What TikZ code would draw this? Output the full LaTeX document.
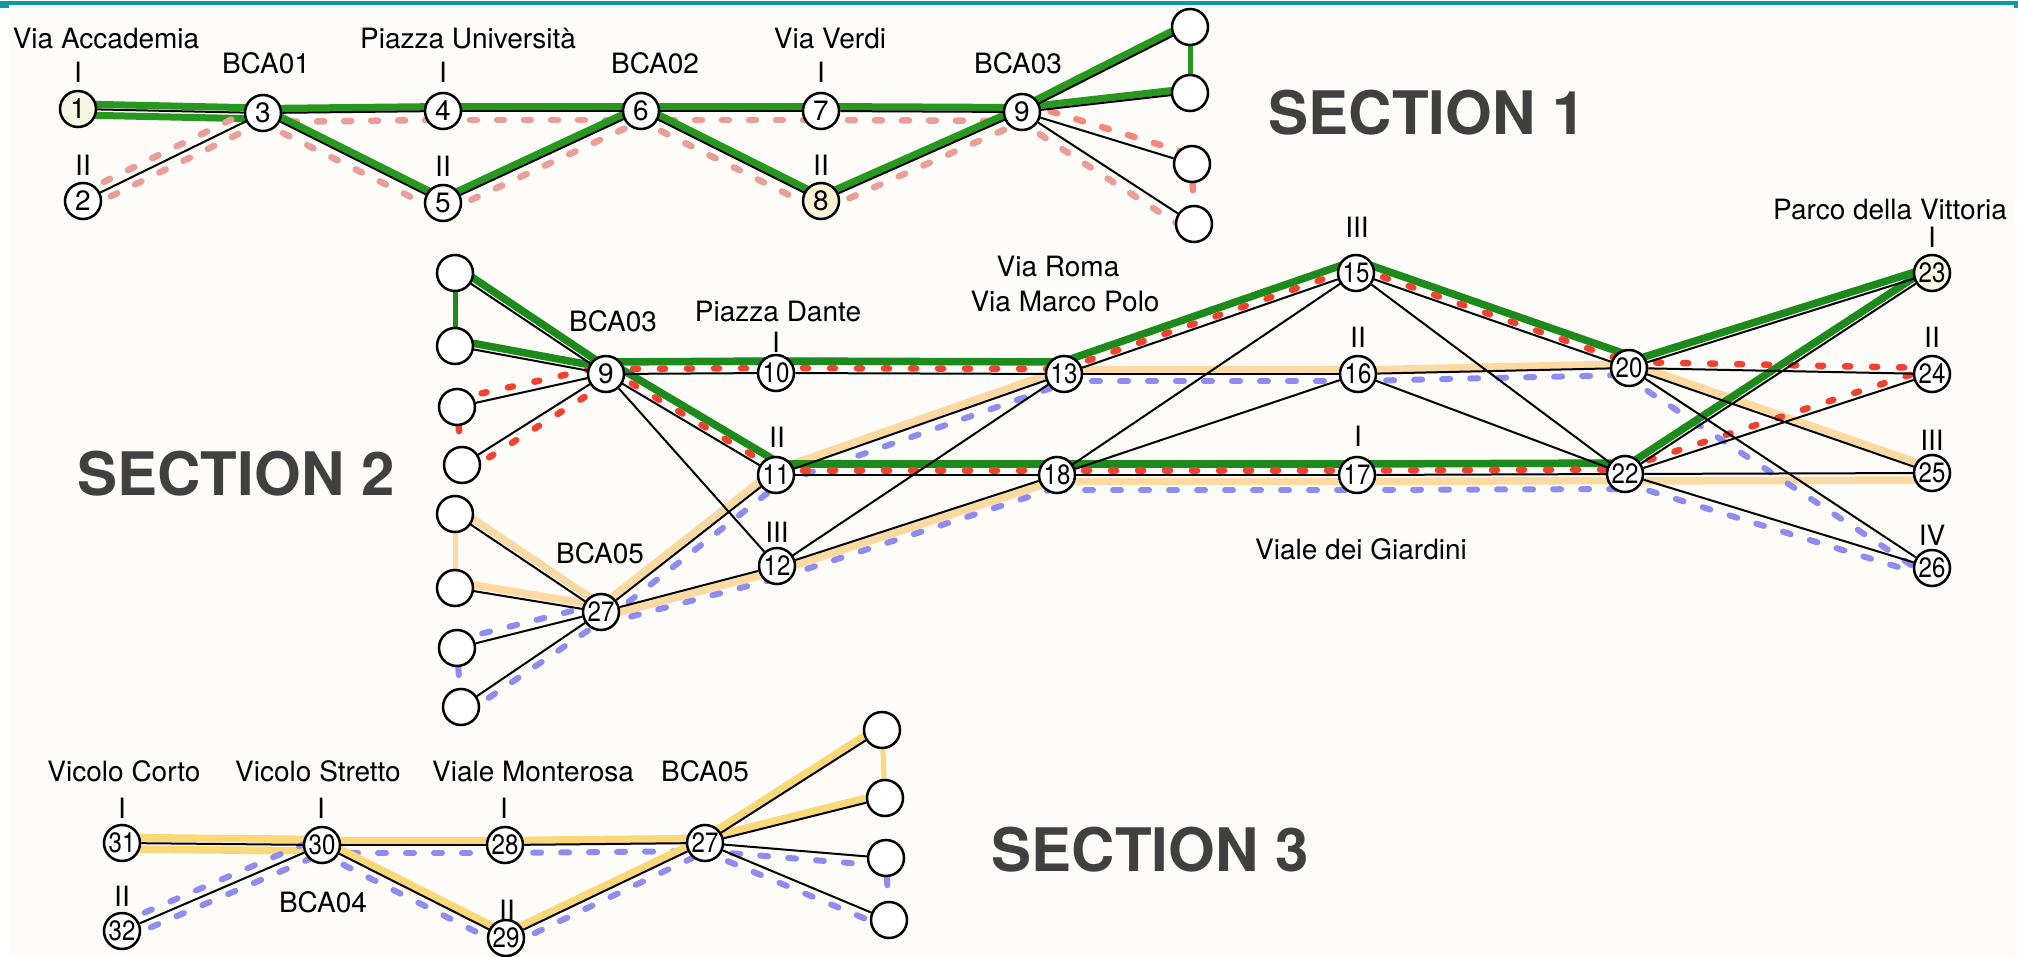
\documentclass[tikz,border=0pt]{standalone}
\usepackage{fontspec}
\setmainfont{TeX Gyre Heros}
\usetikzlibrary{calc}
\pgfdeclarelayer{paperlayer}
\pgfdeclarelayer{edges}
\pgfsetlayers{paperlayer,edges,main}

\definecolor{paper}{HTML}{FDFCF8}
\definecolor{rule}{HTML}{0E98A6}
\definecolor{greenA}{HTML}{27981E}
\definecolor{greenB}{HTML}{1D8B1B}
\definecolor{salmonA}{HTML}{EA9E97}
\definecolor{salmonB}{HTML}{F5887B}
\definecolor{redB}{HTML}{F2412F}
\definecolor{peach}{HTML}{FFD9A2}
\definecolor{sand}{HTML}{FCD879}
\definecolor{lilac}{HTML}{8C8CF2}
\definecolor{secgray}{HTML}{404040}
\definecolor{fillA}{HTML}{F5F7E2}
\definecolor{fillB}{HTML}{FFF3D4}
\definecolor{fillC}{HTML}{FAF9E8}

\newcommand\numfont{\fontsize{28}{30}\selectfont}
\newcommand\lblfont{\fontsize{28}{32}\selectfont}
\newcommand\secfont{\fontsize{60}{66}\selectfont\bfseries}
\newcommand\dd[1]{\scalebox{0.86}[1]{#1}}
% offset route line between two stations (positive = left of travel direction)
\newcommand\rte[4]{\draw[#1] ($(#3)!#2!90:(#4)$) -- ($(#4)!#2!-90:(#3)$);}

\tikzset{
  stn/.style={circle, draw=black, line width=2.5pt, fill=white, minimum size=36pt, inner sep=0pt, font=\numfont},
  blk/.style={line width=2pt, black},
  lbl/.style={font=\lblfont, anchor=base, inner sep=0pt},
  sect/.style={font=\secfont, text=secgray, anchor=base, inner sep=0pt},
  grA/.style={line width=7pt, greenA},
  grB/.style={line width=7.5pt, greenB},
  saA/.style={line width=6.5pt, salmonA, line cap=round, dash pattern=on 7pt off 20pt},
  saB/.style={line width=6.5pt, salmonB, line cap=round, dash pattern=on 7pt off 20pt},
  rdB/.style={line width=6.5pt, redB, line cap=round, dash pattern=on 5pt off 22pt},
  orB/.style={line width=7.5pt, peach},
  orC/.style={line width=7.5pt, sand},
  blu/.style={line width=6pt, lilac, line cap=round, dash pattern=on 8pt off 20pt},
}

\begin{document}
\begin{tikzpicture}[x=1pt,y=-1pt]
\useasboundingbox (0,0) rectangle (2018,957);
\begin{pgfonlayer}{paperlayer}
\fill[white] (0,0) rectangle (2018,957);
\fill[paper] (10,5) rectangle (2015,957);
\fill[rule] (0,1.5) rectangle (2018,5);
\fill[rule] (0,5) rectangle (9,8.5);
\fill[rule] (2014,5) rectangle (2018,8.5);
\end{pgfonlayer}

% ---------------- section 1 stations ----------------
\node[stn, fill=fillA] (p1) at (78,109) {1};
\node[stn] (p2) at (83,201) {2};
\node[stn] (p3) at (263,113) {3};
\node[stn] (p4) at (443,111) {4};
\node[stn] (p5) at (443,203) {5};
\node[stn] (p6) at (641,111) {6};
\node[stn] (p7) at (821,111) {7};
\node[stn, fill=fillB] (p8) at (821,201) {8};
\node[stn] (p9) at (1022,112) {9};
\node[stn] (pe1) at (1190,27) {};
\node[stn] (pe2) at (1190,93) {};
\node[stn] (pe3) at (1192,164) {};
\node[stn] (pe4) at (1194,224) {};

\node[lbl] (t1) at (106,49) {Via Accademia};
\node[lbl] (t2) at (78,83) {I};
\node[lbl] (t3) at (266,74) {BCA01};
\node[lbl] (t4) at (468,49) {Piazza Università};
\node[lbl] (t5) at (443,83) {I};
\node[lbl] (t6) at (83,176) {II};
\node[lbl] (t7) at (443,177) {II};
\node[lbl] (t8) at (655,74) {BCA02};
\node[lbl] (t9) at (830,49) {Via Verdi};
\node[lbl] (t10) at (821,83) {I};
\node[lbl] (t11) at (821,176) {II};
\node[lbl] (t12) at (1018,74) {BCA03};
\node[sect] (s1) at (1427,135) {SECTION 1};

% ---------------- section 2 stations ----------------
\node[stn] (qe1) at (455,273) {};
\node[stn] (qe2) at (455,346) {};
\node[stn] (qe3) at (457,407) {};
\node[stn] (qe4) at (462,465) {};
\node[stn] (qe5) at (455,514) {};
\node[stn] (qe6) at (455,588) {};
\node[stn] (qe7) at (457,648) {};
\node[stn] (qe8) at (461,707) {};
\node[stn] (q9) at (606,374) {9};
\node[stn] (q10) at (776,373) {\dd{10}};
\node[stn] (q11) at (776,475) {\dd{11}};
\node[stn] (q12) at (777,566) {\dd{12}};
\node[stn] (q13) at (1064,374) {\dd{13}};
\node[stn] (q15) at (1356,273) {\dd{15}};
\node[stn] (q16) at (1358,374) {\dd{16}};
\node[stn] (q17) at (1357,475) {\dd{17}};
\node[stn] (q18) at (1057,475) {\dd{18}};
\node[stn] (q20) at (1629,368) {\dd{20}};
\node[stn] (q22) at (1625,474) {\dd{22}};
\node[stn, fill=fillC] (q23) at (1932,273) {\dd{23}};
\node[stn] (q24) at (1932,374) {\dd{24}};
\node[stn] (q25) at (1932,473) {\dd{25}};
\node[stn] (q26) at (1932,568) {\dd{26}};
\node[stn] (q27) at (601,612) {\dd{27}};

\node[lbl] (u1) at (613,332) {BCA03};
\node[lbl] (u2) at (778,322) {Piazza Dante};
\node[lbl] (u3) at (776,353) {I};
\node[lbl] (u4) at (1058,277) {Via Roma};
\node[lbl] (u5) at (1065,312) {Via Marco Polo};
\node[lbl] (u6) at (1357,238) {III};
\node[lbl] (u7) at (1358,348) {II};
\node[lbl] (u8) at (1358,446) {I};
\node[lbl] (u9) at (777,447) {II};
\node[lbl] (u10) at (777,542) {III};
\node[lbl] (u11) at (600,563) {BCA05};
\node[lbl] (u12) at (1361,559) {Viale dei Giardini};
\node[lbl] (u13) at (1890,220) {Parco della Vittoria};
\node[lbl] (u14) at (1932,248) {I};
\node[lbl] (u15) at (1932,348) {II};
\node[lbl] (u16) at (1932,450) {III};
\node[lbl] (u17) at (1932,545) {IV};
\node[sect] (s2) at (236,495) {SECTION 2};

% ---------------- section 3 stations ----------------
\node[stn] (r31) at (122,843) {\dd{31}};
\node[stn] (r32) at (122,931) {\dd{32}};
\node[stn] (r30) at (322,845) {\dd{30}};
\node[stn] (r28) at (505,845) {\dd{28}};
\node[stn] (r29) at (506,938) {\dd{29}};
\node[stn] (r27) at (705,843) {\dd{27}};
\node[stn] (re1) at (882,730) {};
\node[stn] (re2) at (885,798) {};
\node[stn] (re3) at (886,858) {};
\node[stn] (re4) at (889,920) {};

\node[lbl] (v1) at (124,781) {Vicolo Corto};
\node[lbl] (v2) at (122,818) {I};
\node[lbl] (v3) at (318,781) {Vicolo Stretto};
\node[lbl] (v4) at (321,818) {I};
\node[lbl] (v5) at (533,781) {Viale Monterosa};
\node[lbl] (v6) at (504,818) {I};
\node[lbl] (v7) at (705,781) {BCA05};
\node[lbl] (v8) at (122,906) {II};
\node[lbl] (v9) at (323,912) {BCA04};
\node[lbl] (v10) at (507,920) {II};
\node[sect] (s3) at (1150,871) {SECTION 3};

\begin{pgfonlayer}{edges}
% ---- section 1 routes ----
\rte{grA}{5pt}{p1}{p3}
\rte{grA}{-6pt}{p1}{p3}
\rte{saA}{8pt}{p2}{p3}
\rte{saA}{-8pt}{p2}{p3}
\foreach \a/\b in {p3/p4,p3/p5,p4/p6,p5/p6,p6/p7,p6/p8,p7/p9,p8/p9}{
  \rte{grA}{4.5pt}{\a}{\b}
  \rte{saA}{-9pt}{\a}{\b}
}
\rte{grA}{4.5pt}{p9}{pe1}
\rte{grA}{4.5pt}{p9}{pe2}
\draw[grA, line width=5pt] (pe1) -- (pe2);
\rte{saB}{9pt}{p9}{pe3}
\rte{saA}{-9pt}{p9}{pe4}
\draw[saB] (pe3) -- (pe4);
\foreach \a/\b in {p1/p3,p2/p3,p3/p4,p3/p5,p4/p6,p5/p6,p6/p7,p6/p8,p7/p9,p8/p9,p9/pe1,p9/pe2,p9/pe3,p9/pe4}
  \draw[blk] (\a) -- (\b);

% ---- section 2 routes ----
\rte{grB}{6pt}{qe1}{q9}
\rte{grB}{6pt}{qe2}{q9}
\draw[grB, line width=5pt] (qe1) -- (qe2);
\rte{rdB}{8pt}{qe3}{q9}
\rte{rdB}{-8pt}{qe4}{q9}
\draw[rdB] (qe3) -- (qe4);
\rte{orB}{6pt}{qe5}{q27}
\rte{orB}{6pt}{qe6}{q27}
\draw[orB, line width=5pt] (qe5) -- (qe6);
\rte{blu}{8pt}{qe7}{q27}
\rte{blu}{-8pt}{qe8}{q27}
\draw[blu] (qe7) -- (qe8);
\foreach \a/\b in {q27/q11,q11/q13}{
  \rte{orB}{5pt}{\a}{\b}
  \rte{blu}{-9pt}{\a}{\b}
}
\foreach \a/\b in {q13/q16,q16/q20}{
  \rte{orB}{4pt}{\a}{\b}
  \rte{blu}{-7pt}{\a}{\b}
}
\foreach \a/\b in {q27/q12,q12/q18}{
  \rte{orB}{-5pt}{\a}{\b}
  \rte{blu}{-12pt}{\a}{\b}
}
\foreach \a/\b in {q18/q17,q17/q22}{
  \rte{orB}{-6.5pt}{\a}{\b}
  \rte{blu}{-15pt}{\a}{\b}
}
\rte{orB}{5pt}{q20}{q25}
\rte{orB}{-7pt}{q22}{q25}
\rte{blu}{-9pt}{q20}{q26}
\rte{blu}{-9pt}{q22}{q26}
\foreach \a/\b in {q9/q10,q10/q13,q9/q11,q13/q15,q15/q20}{
  \rte{grB}{12pt}{\a}{\b}
  \rte{rdB}{5pt}{\a}{\b}
}
\foreach \a/\b in {q11/q18,q18/q17,q17/q22}{
  \rte{grB}{11pt}{\a}{\b}
  \rte{rdB}{4.5pt}{\a}{\b}
}
\rte{grB}{6pt}{q20}{q23}
\rte{grB}{6pt}{q22}{q23}
\rte{rdB}{6pt}{q20}{q24}
\rte{rdB}{6pt}{q22}{q24}
\foreach \a/\b in {qe1/q9,qe2/q9,qe3/q9,qe4/q9,qe5/q27,qe6/q27,qe7/q27,qe8/q27,
    q9/q10,q10/q13,q9/q11,q9/q12,q11/q18,q11/q13,q27/q11,q27/q12,q12/q13,q12/q18,
    q13/q15,q13/q16,q15/q20,q16/q20,q15/q18,q15/q22,q16/q18,q16/q22,q18/q17,q17/q22,
    q20/q23,q22/q23,q20/q24,q22/q24,q20/q25,q22/q25,q20/q26,q22/q26}
  \draw[blk] (\a) -- (\b);

% ---- section 3 routes ----
\rte{orC}{5.5pt}{r31}{r30}
\rte{orC}{-6pt}{r31}{r30}
\rte{blu}{8pt}{r32}{r30}
\rte{blu}{-8pt}{r32}{r30}
\foreach \a/\b in {r30/r28,r28/r27,r30/r29,r29/r27}{
  \rte{orC}{4.5pt}{\a}{\b}
  \rte{blu}{-8pt}{\a}{\b}
}
\rte{orC}{4.5pt}{r27}{re1}
\rte{orC}{4.5pt}{r27}{re2}
\draw[orC, line width=5pt] (re1) -- (re2);
\rte{blu}{-8pt}{r27}{re3}
\rte{blu}{-8pt}{r27}{re4}
\draw[blu] (re3) -- (re4);
\foreach \a/\b in {r31/r30,r32/r30,r30/r28,r28/r27,r30/r29,r29/r27,r27/re1,r27/re2,r27/re3,r27/re4}
  \draw[blk] (\a) -- (\b);
\end{pgfonlayer}
\end{tikzpicture}
\end{document}
